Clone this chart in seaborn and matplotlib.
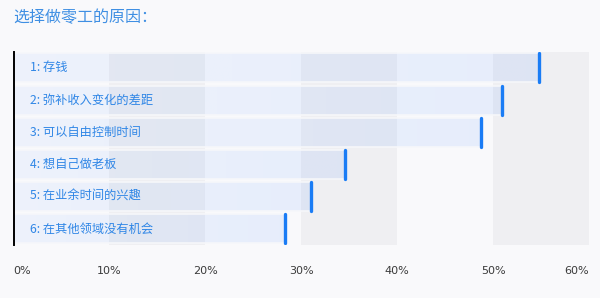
import numpy as np
import pandas as pd
import matplotlib
matplotlib.use("Agg")
import matplotlib.pyplot as plt
import seaborn as sns

title = "选择做零工的原因："
categories = ["1: 存钱", "2: 弥补收入变化的差距", "3: 可以自由控制时间",
              "4: 想自己做老板", "5: 在业余时间的兴趣", "6: 在其他领域没有机会"]
values = [54.8, 50.9, 48.7, 34.6, 31.0, 28.3]
xticks = [0, 10, 20, 30, 40, 50, 60]
xtick_labels = ["0%", "10%", "20%", "30%", "40%", "50%", "60%"]
bands = [(10, 20), (30, 40), (50, 60)]

sns.set_theme(style="white")
plt.rcParams['font.family'] = ['Noto Sans CJK SC', 'DejaVu Sans']

bg = "#f9f9fb"
fig = plt.figure(figsize=(6.0, 2.98), dpi=100, facecolor=bg)
ax = fig.add_axes([0.0225, 0.178, 0.959, 0.648])
ax.set_facecolor(bg)

df = pd.DataFrame({"cat": categories, "val": values})
sns.barplot(data=df, x="val", y="cat", orient="h", ax=ax, width=0.9,
            color="#e4eefb", edgecolor="#f6f7fa", linewidth=1.2, zorder=2,
            saturation=1)

# translucent blue gradient fill clipped to each bar
n = 256
rgba = np.zeros((1, n, 4))
rgba[..., 0] = 0.2
rgba[..., 1] = 0.5
rgba[..., 2] = 1.0
rgba[..., 3] = np.linspace(0.06, 0.095, n)
for p in list(ax.patches):
    x0, y0 = p.get_x(), p.get_y()
    w, h = p.get_width(), p.get_height()
    im = ax.imshow(rgba, extent=[x0, x0 + w, y0 + h, y0],
                   aspect="auto", zorder=1.5, interpolation="bilinear")
    im.set_clip_path(p)
    p.set_facecolor("none")

for lo, hi in bands:
    ax.axvspan(lo, hi, color="#efeff2", zorder=0, lw=0)

# end markers
ys = np.arange(len(values))
ax.vlines(values, ys - 0.45, ys + 0.45, color="#1a7cf5", lw=2.4, zorder=4,
          capstyle="round")

for i, c in enumerate(categories):
    ax.text(1.7, i, c, va="center", ha="left", fontsize=8.8, color="#2f86e6",
            fontweight="medium", zorder=5)

ax.set_xlim(0, 60)
ax.set_ylim(len(values) - 0.5, -0.5)
ax.set_xlabel("")
ax.set_ylabel("")
ax.set_yticks([])
ax.set_xticks(xticks)
ax.set_xticklabels(xtick_labels, fontsize=8, color="#3a3a3a",
                   family=['Liberation Sans Narrow', 'DejaVu Sans'])
labs = ax.get_xticklabels()
labs[0].set_ha("left")
labs[-1].set_ha("right")
ax.tick_params(axis="x", length=0, pad=15)
for s in ["top", "right", "bottom"]:
    ax.spines[s].set_visible(False)
ax.spines["left"].set_color("black")
ax.spines["left"].set_linewidth(1.4)
ax.spines["left"].set_zorder(6)

fig.text(0.0225, 0.94, title, fontsize=11.5, color="#3f8fe3", va="center",
         ha="left", fontweight="medium")

fig.savefig("out.png", dpi=100, facecolor=bg)
